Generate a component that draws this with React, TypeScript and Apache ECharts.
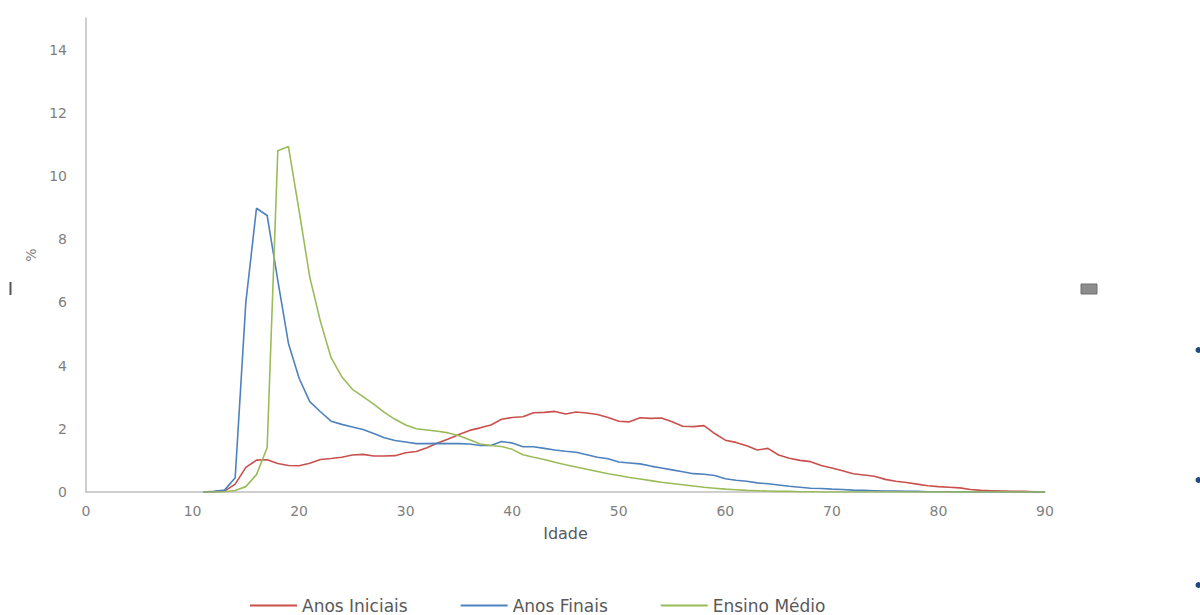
import React, { useEffect, useRef } from "react";
import * as echarts from "echarts";

// Idade (anos)
const AGES = [
  11, 12, 13, 14, 15, 16, 17, 18, 19, 20,
  21, 22, 23, 24, 25, 26, 27, 28, 29, 30,
  31, 32, 33, 34, 35, 36, 37, 38, 39, 40,
  41, 42, 43, 44, 45, 46, 47, 48, 49, 50,
  51, 52, 53, 54, 55, 56, 57, 58, 59, 60,
  61, 62, 63, 64, 65, 66, 67, 68, 69, 70,
  71, 72, 73, 74, 75, 76, 77, 78, 79, 80,
  81, 82, 83, 84, 85, 86, 87, 88, 89, 90,
];

const ANOS_INICIAIS = [
  0, 0.01, 0.03, 0.25, 0.78, 1.01, 1.02, 0.9, 0.84, 0.83,
  0.91, 1.03, 1.06, 1.1, 1.17, 1.19, 1.14, 1.14, 1.15, 1.24,
  1.28, 1.4, 1.55, 1.68, 1.82, 1.95, 2.03, 2.12, 2.3, 2.36,
  2.38, 2.51, 2.52, 2.55, 2.47, 2.53, 2.5, 2.45, 2.36, 2.24,
  2.22, 2.35, 2.33, 2.34, 2.22, 2.08, 2.07, 2.1, 1.85, 1.64,
  1.57, 1.46, 1.33, 1.38, 1.17, 1.07, 1.0, 0.96, 0.84, 0.76,
  0.67, 0.58, 0.54, 0.5, 0.4, 0.34, 0.3, 0.25, 0.2, 0.17,
  0.15, 0.13, 0.08, 0.05, 0.04, 0.03, 0.02, 0.02, 0.01, 0.01,
];

const ANOS_FINAIS = [
  0, 0.02, 0.06, 0.45, 6.0, 8.98, 8.75, 6.7, 4.7, 3.6,
  2.86, 2.54, 2.24, 2.14, 2.06, 1.98, 1.85, 1.72, 1.63, 1.58,
  1.53, 1.53, 1.54, 1.53, 1.53, 1.52, 1.47, 1.47, 1.6, 1.55,
  1.43, 1.43, 1.38, 1.33, 1.29, 1.26, 1.18, 1.1, 1.05, 0.95,
  0.92, 0.89, 0.82, 0.76, 0.7, 0.64, 0.58, 0.56, 0.52, 0.42,
  0.37, 0.34, 0.29, 0.26, 0.22, 0.18, 0.15, 0.12, 0.11, 0.09,
  0.08, 0.06, 0.05, 0.04, 0.03, 0.03, 0.02, 0.02, 0.01, 0.01,
  0.01, 0.01, 0, 0, 0, 0, 0, 0, 0, 0,
];

const ENSINO_MEDIO = [
  0, 0, 0.01, 0.05, 0.17, 0.55, 1.4, 10.8, 10.93, 8.9,
  6.8, 5.4, 4.25, 3.65, 3.25, 3.02, 2.78, 2.52, 2.3, 2.12,
  2.0, 1.96, 1.92, 1.87, 1.78, 1.65, 1.52, 1.47, 1.44, 1.35,
  1.18, 1.1, 1.03, 0.94, 0.86, 0.79, 0.72, 0.65, 0.58, 0.52,
  0.46, 0.41, 0.36, 0.31, 0.27, 0.23, 0.19, 0.15, 0.12, 0.09,
  0.07, 0.05, 0.04, 0.03, 0.02, 0.02, 0.01, 0.01, 0, 0,
  0, 0, 0, 0, 0, 0, 0, 0, 0, 0,
  0, 0, 0, 0, 0, 0, 0, 0, 0, 0,
];

const SERIES_NAMES = ["Anos Iniciais", "Anos Finais", "Ensino Médio"];
const SERIES_COLORS = ["#c9504d", "#4f81bd", "#9bbb59"];
const SERIES_VALUES = [ANOS_INICIAIS, ANOS_FINAIS, ENSINO_MEDIO];

const X_NAME = "Idade";
const Y_NAME = "%";

export default function App() {
  const ref = useRef<HTMLDivElement>(null);

  useEffect(() => {
    document.body.style.margin = "0";
    const chart = echarts.init(ref.current!, null, { renderer: "svg" });
    const axisColor = "#bfbfbf";
    const labelColor = "#7f7f7f";
    chart.setOption({
      animation: false,
      backgroundColor: "#ffffff",
      textStyle: { fontFamily: "DejaVu Sans" },
      grid: { left: 86, top: 18, right: 155, bottom: 123, containLabel: false },
      xAxis: {
        type: "value",
        min: 0,
        max: 90,
        interval: 10,
        name: X_NAME,
        nameLocation: "middle",
        nameGap: 33,
        nameTextStyle: { color: "#595959", fontSize: 16, fontFamily: "DejaVu Sans" },
        axisLine: { show: true, onZero: false, lineStyle: { color: axisColor, width: 1.5 } },
        axisTick: { show: false },
        splitLine: { show: false },
        axisLabel: { color: labelColor, fontSize: 14, margin: 12, fontFamily: "DejaVu Sans" },
      },
      yAxis: {
        type: "value",
        min: 0,
        max: 15,
        interval: 2,
        name: Y_NAME,
        nameLocation: "middle",
        nameGap: 48,
        nameTextStyle: { color: "#7f7f7f", fontSize: 14, fontFamily: "DejaVu Sans" },
        axisLine: { show: true, lineStyle: { color: axisColor, width: 1.5 } },
        axisTick: { show: false },
        splitLine: { show: false },
        axisLabel: {
          color: labelColor,
          fontSize: 14,
          margin: 19,
          showMaxLabel: false,
          fontFamily: "DejaVu Sans",
        },
      },
      legend: {
        show: true,
        left: 250,
        top: 597,
        padding: 0,
        icon: "rect",
        itemWidth: 47,
        itemHeight: 2,
        itemGap: 53,
        textStyle: {
          color: "#595959",
          fontSize: 17,
          lineHeight: 17,
          fontFamily: "DejaVu Sans",
        },
        data: SERIES_NAMES,
      },
      series: SERIES_NAMES.map((name, i) => ({
        name,
        type: "line",
        symbol: "none",
        smooth: false,
        lineStyle: { color: SERIES_COLORS[i], width: 1.6 },
        itemStyle: { color: SERIES_COLORS[i] },
        data: AGES.map((a, j) => [a, SERIES_VALUES[i][j]]),
      })),
      graphic: [
        { type: "rect", shape: { x: 9.5, y: 282, width: 2, height: 13 }, style: { fill: "#555555" } },
        {
          type: "rect",
          shape: { x: 1081, y: 284, width: 16, height: 10 },
          style: { fill: "#8c8c8c", stroke: "#6e6e6e", lineWidth: 1 },
        },
        { type: "circle", shape: { cx: 1198.5, cy: 350, r: 3 }, style: { fill: "#1f497d" } },
        { type: "circle", shape: { cx: 1198.5, cy: 480, r: 3 }, style: { fill: "#1f497d" } },
        { type: "circle", shape: { cx: 1198.5, cy: 585, r: 3 }, style: { fill: "#1f497d" } },
      ],
    });
    return () => chart.dispose();
  }, []);

  return <div ref={ref} style={{ width: 1200, height: 615 }} />;
}
